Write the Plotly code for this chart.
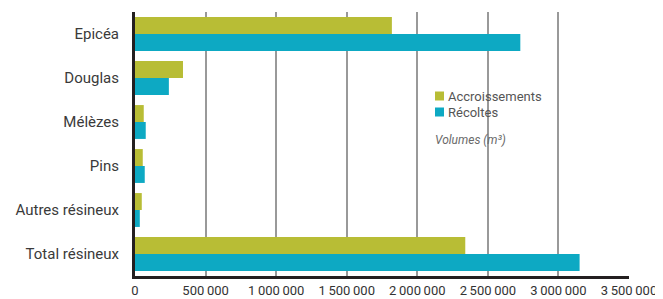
import plotly.graph_objects as go

categories = ["Epicéa", "Douglas", "Mélèzes", "Pins", "Autres résineux", "Total résineux"]
accroissements = [1820000, 340000, 62000, 55000, 48000, 2340000]
recoltes = [2730000, 240000, 76000, 69000, 34000, 3150000]
tick_values = [0, 500000, 1000000, 1500000, 2000000, 2500000, 3000000, 3500000]
tick_labels = ["0", "500\u2009000", "1\u2009000\u2009000", "1\u2009500\u2009000", "2\u2009000\u2009000",
               "2\u2009500\u2009000", "3\u2009000\u2009000", "3\u2009500\u2009000"]
series_names = ["Accroissements", "Récoltes"]

GREEN = "#b8bd35"
CYAN = "#0da9c3"
FONT = "Roboto"

fig = go.Figure()
fig.add_trace(go.Bar(y=categories, x=accroissements, orientation="h", name=series_names[0],
                     marker=dict(color=GREEN, line=dict(width=0))))
fig.add_trace(go.Bar(y=categories, x=recoltes, orientation="h", name=series_names[1],
                     marker=dict(color=CYAN, line=dict(width=0))))

OFF = 8  # page body margin
W, H = 663 - OFF, 299 - OFF
L, R, T, B = 135 - OFF, 34, 12 - OFF, 23
pw, ph = W - L - R, H - T - B

def px_x(p):  # window pixel -> paper
    return (p - OFF - L) / pw

def px_y(p):
    return (H - B - (p - OFF)) / ph

# manual legend (swatches + labels) with white background box
shapes = [dict(type="rect", xref="paper", yref="paper", x0=px_x(430), x1=px_x(552),
               y0=px_y(155), y1=px_y(85), fillcolor="white", line=dict(width=0), layer="between")]
annotations = []
for i, (name, col) in enumerate(zip(series_names, [GREEN, CYAN])):
    yc = 96 + 16 * i
    shapes.append(dict(type="rect", xref="paper", yref="paper", x0=px_x(435), x1=px_x(444),
                       y0=px_y(yc + 4.5), y1=px_y(yc - 4.5), fillcolor=col, line=dict(width=0),
                       layer="above"))
    annotations.append(dict(text=name, xref="paper", yref="paper", x=px_x(446), y=px_y(yc),
                            xanchor="left", yanchor="middle", showarrow=False,
                            font=dict(size=13, color="#555555", family=FONT)))
annotations.append(dict(text="<i>Volumes (m³)</i>", xref="paper", yref="paper", x=px_x(433),
                        y=px_y(140), xanchor="left", yanchor="middle", showarrow=False,
                        font=dict(size=12, color="#6a6a6a", family=FONT)))

fig.update_layout(
    width=W, height=H,
    margin=dict(l=L, r=R, t=T, b=B, autoexpand=False),
    paper_bgcolor="white", plot_bgcolor="white",
    barmode="group", bargap=0.23, bargroupgap=0,
    font=dict(family=FONT, color="#333333"),
    showlegend=False,
    xaxis=dict(range=[0, 3500000], tickvals=tick_values, ticktext=tick_labels, automargin=False,
               showgrid=True, gridcolor="#999999", gridwidth=2, zeroline=False,
               showline=True, linecolor="#231f20", linewidth=3,
               tickfont=dict(size=13, color="#333333"), ticks=""),
    yaxis=dict(autorange="reversed", showgrid=False, zeroline=False, automargin=False,
               showline=True, linecolor="#231f20", linewidth=3,
               tickfont=dict(size=15, color="#3a3a3a"), ticks="", ticklabelstandoff=10),
    shapes=shapes,
    annotations=annotations,
)

fig.write_html("out.html")
